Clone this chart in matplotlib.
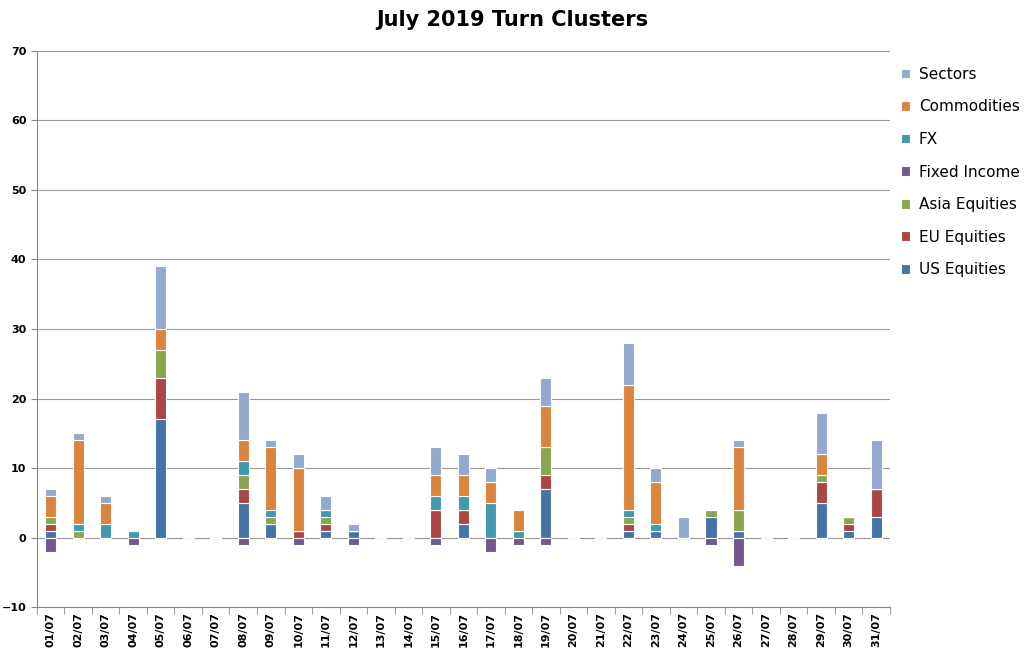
import matplotlib
matplotlib.use("Agg")
import matplotlib.pyplot as plt
import numpy as np

dates = [f"{d:02d}/07" for d in range(1, 32)]
us =      [1,0,0,0,17,0,0,5,2,0,1,1,0,0,0,2,0,0,7,0,0,1,1,0,3,1,0,0,5,1,3]
eu =      [1,0,0,0,6,0,0,2,0,1,1,0,0,0,4,2,0,0,2,0,0,1,0,0,0,0,0,0,3,1,4]
asia =    [1,1,0,0,4,0,0,2,1,0,1,0,0,0,0,0,0,0,4,0,0,1,0,0,1,3,0,0,1,1,0]
fixed =   [-2,0,0,-1,0,0,0,-1,0,-1,0,-1,0,0,-1,0,-2,-1,-1,0,0,0,0,0,-1,-4,0,0,0,0,0]
fx =      [0,1,2,1,0,0,0,2,1,0,1,0,0,0,2,2,5,1,0,0,0,1,1,0,0,0,0,0,0,0,0]
comm =    [3,12,3,0,3,0,0,3,9,9,0,0,0,0,3,3,3,3,6,0,0,18,6,0,0,9,0,0,3,0,0]
sectors = [1,1,1,0,9,0,0,7,1,2,2,1,0,0,4,3,2,0,4,0,0,6,2,3,0,1,0,0,6,0,7]

pos_series = [("US Equities", us, "#4572A7"), ("EU Equities", eu, "#AA4643"),
              ("Asia Equities", asia, "#89A54E"), ("FX", fx, "#4198AF"),
              ("Commodities", comm, "#DB843D"), ("Sectors", sectors, "#93A9CF")]

fig = plt.figure(figsize=(10.24, 6.66), dpi=100)
ax = fig.add_axes([0.036, 0.088, 0.833, 0.836])
x = np.arange(len(dates))
w = 0.4
handles = {}
bottom = np.zeros(len(dates))
for name, vals, col in pos_series:
    v = np.array(vals, float)
    h = ax.bar(x, v, w, bottom=bottom, color=col, edgecolor="white", linewidth=0.8, label=name)
    handles[name] = h
    bottom += v
handles["Fixed Income"] = ax.bar(x, fixed, w, color="#71588F", edgecolor="white", linewidth=0.8, label="Fixed Income")

order = ["Sectors", "Commodities", "FX", "Fixed Income", "Asia Equities", "EU Equities", "US Equities"]
leg = ax.legend([handles[o] for o in order], order, loc="upper left", bbox_to_anchor=(1.0, 0.99),
                frameon=False, fontsize=11, handlelength=0.6, handleheight=0.6, handletextpad=0.6,
                labelspacing=1.15, borderaxespad=0.3)

ax.set_ylim(-10, 70)
ax.set_yticks(range(-10, 71, 10))
ax.set_xlim(-0.5, len(dates) - 0.5)
ax.set_xticks(x)
ax.set_xticklabels(dates, rotation=90, fontsize=8, fontweight="bold")
ax.set_xticks(np.arange(-0.5, len(dates)), minor=True)
ax.tick_params(axis="x", which="major", length=0)
ax.tick_params(axis="x", which="minor", length=5, color="#888888")
ax.tick_params(axis="y", labelsize=8, length=4, color="#888888")
for lbl in ax.get_yticklabels():
    lbl.set_fontweight("bold")
ax.yaxis.grid(True, color="#999999", linewidth=0.8)
ax.set_axisbelow(True)
for s in ["top", "right"]:
    ax.spines[s].set_visible(False)
ax.spines["left"].set_color("#888888")
ax.spines["bottom"].set_color("#888888")
ax.axhline(0, color="#bbbbbb", linewidth=0.8, zorder=0.5)
fig.suptitle("July 2019 Turn Clusters", fontsize=15, fontweight="bold", y=0.985)
fig.savefig("out.png", dpi=100)
